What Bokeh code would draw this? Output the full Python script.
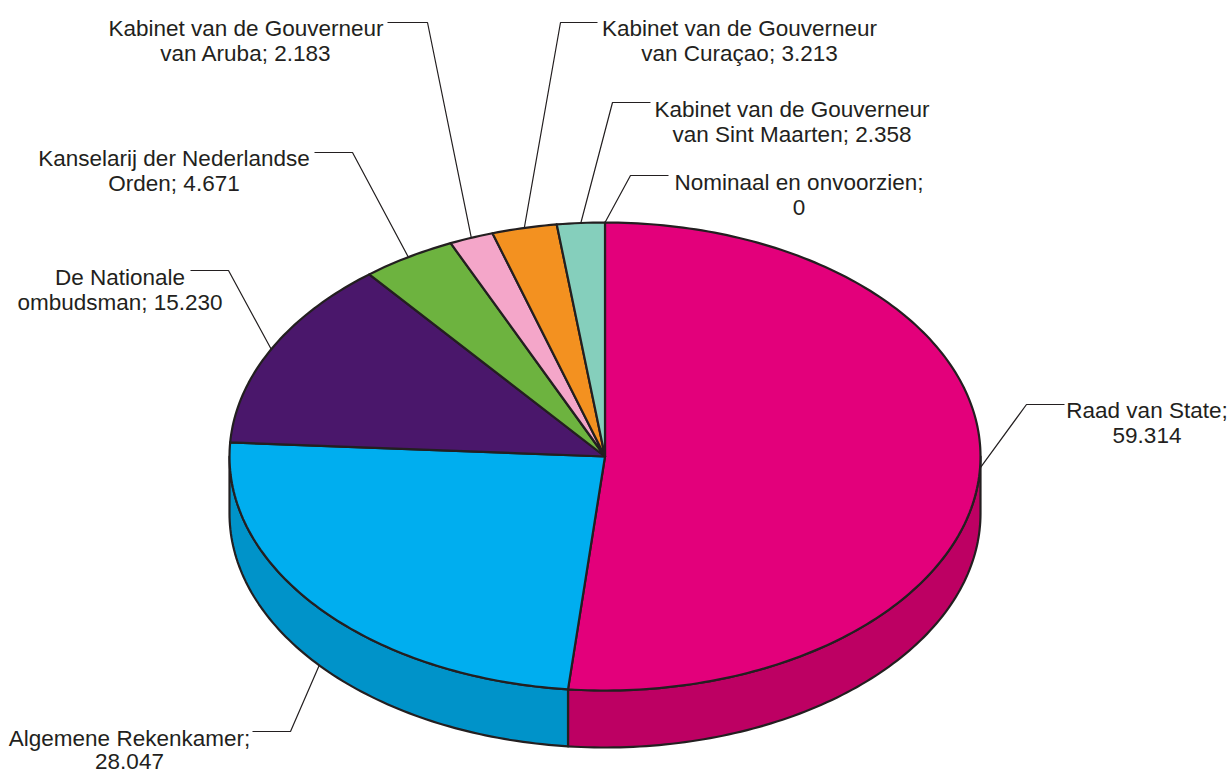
import math
from bokeh.plotting import figure
from bokeh.models import Range1d, ColumnDataSource
from bokeh.core.properties import value
from bokeh.embed import file_html
from bokeh.resources import INLINE

# ---- data ----
categories = ["Raad van State", "Algemene Rekenkamer", "De Nationale ombudsman",
              "Kanselarij der Nederlandse Orden", "Kabinet van de Gouverneur van Aruba",
              "Kabinet van de Gouverneur van Curaçao", "Kabinet van de Gouverneur van Sint Maarten",
              "Nominaal en onvoorzien"]
values = [59.314, 28.047, 15.230, 4.671, 2.183, 3.213, 2.358, 0.0]
value_labels = ["59.314", "28.047", "15.230", "4.671", "2.183", "3.213", "2.358", "0"]
label_templates = ["Raad van State;\n{v}", "Algemene Rekenkamer;\n{v}", "De Nationale\nombudsman; {v}",
                   "Kanselarij der Nederlandse\nOrden; {v}", "Kabinet van de Gouverneur\nvan Aruba; {v}",
                   "Kabinet van de Gouverneur\nvan Curaçao; {v}", "Kabinet van de Gouverneur\nvan Sint Maarten; {v}",
                   "Nominaal en onvoorzien;\n{v}"]
top_colors = ["#E3007B", "#00AEEF", "#4A176B", "#6DB33F", "#F4A6C9", "#F39120", "#85CFBC", "#999999"]
side_colors = ["#BD0063", "#0093C9", "#3A1055", "#57902F", "#C8849F", "#C6741A", "#6AA696", "#777777"]

# ---- layout (positions / styles) ----
CX, CY, RX, RY, DEPTH = 604.5, 456.0, 375.5, 234.0, 57.0
# label text centre x, first baseline y, leader y, leader start x (text side), elbow x, line gap
label_layout = [
    (1146.5, 410, 404, 1064, 1026, 25),
    (129.0, 738, 731, 252, 290, 23),
    (119.5, 277, 270, 190, 228, 25),
    (173.5, 158, 152, 314, 352, 25),
    (245.5, 28, 22, 387, 427, 25),
    (739.0, 28, 22, 597, 560, 25),
    (791.5, 109, 102, 650, 612, 25),
    (798.5, 182, 175, 668, 630, 25),
]
TEXT_COLOR = "#231F20"
FONT = "Liberation Sans"
W, H = 1229, 780


def pt(theta, dy=0.0):
    t = math.radians(theta)
    return CX + RX * math.sin(t), CY - RY * math.cos(t) + dy


def arc(a0, a1, dy=0.0):
    n = max(2, int(abs(a1 - a0) / 1.0) + 2)
    xs, ys = [], []
    for i in range(n):
        a = a0 + (a1 - a0) * i / (n - 1)
        x, y = pt(a, dy)
        xs.append(x)
        ys.append(y)
    return xs, ys


total = sum(values)
starts, ends = [], []
acc = 0.0
for v in values:
    starts.append(acc / total * 360.0)
    acc += v
    ends.append(acc / total * 360.0)

p = figure(width=W, height=H, output_backend="svg", toolbar_location=None,
           x_range=Range1d(0, W), y_range=Range1d(H, 0), min_border=0)
p.axis.visible = False
p.grid.visible = False
p.outline_line_color = None
p.background_fill_color = "white"

# side faces (front half only)
sx, sy, sc = [], [], []
for a0, a1, c in zip(starts, ends, side_colors):
    s0, s1 = max(a0, 90.0), min(a1, 270.0)
    if s1 > s0:
        tx, ty = arc(s0, s1)
        bx, by = arc(s1, s0, DEPTH)
        sx.append(tx + bx)
        sy.append(ty + by)
        sc.append(c)
p.patches(xs="xs", ys="ys", fill_color="fc", line_color=TEXT_COLOR, line_width=2.2,
          line_join="round", source=ColumnDataSource(dict(xs=sx, ys=sy, fc=sc)))

# top faces
txs, tys, tcs = [], [], []
for a0, a1, c in zip(starts, ends, top_colors):
    if a1 - a0 <= 0:
        continue
    ax, ay = arc(a0, a1)
    txs.append([CX] + ax)
    tys.append([CY] + ay)
    tcs.append(c)
p.patches(xs="xs", ys="ys", fill_color="fc", line_color=TEXT_COLOR, line_width=2.2,
          line_join="round", source=ColumnDataSource(dict(xs=txs, ys=tys, fc=tcs)))

# leaders and labels
lx, ly = [], []
t_x, t_y, t_txt = [], [], []
for i, (a0, a1) in enumerate(zip(starts, ends)):
    mid = (a0 + a1) / 2.0
    dy = DEPTH if 180.0 < mid < 270.0 else 0.0
    ax, ay = pt(mid, dy)
    cxl, base, hy, hx_text, hx_elbow, gap = label_layout[i]
    lx.append([hx_text, hx_elbow, ax])
    ly.append([hy, hy, ay])
    lines = label_templates[i].format(v=value_labels[i]).split("\n")
    for k, line in enumerate(lines):
        t_x.append(cxl)
        t_y.append(base + k * gap)
        t_txt.append(line)

p.multi_line(xs="xs", ys="ys", line_color=TEXT_COLOR, line_width=1.2,
             source=ColumnDataSource(dict(xs=lx, ys=ly)))
p.text(x="x", y="y", text="t", source=ColumnDataSource(dict(x=t_x, y=t_y, t=t_txt)),
       text_font=value(FONT), text_font_size="22.5px", text_align="center",
       text_baseline="alphabetic", text_color=TEXT_COLOR)

open("out.html", "w").write(file_html(p, INLINE))
